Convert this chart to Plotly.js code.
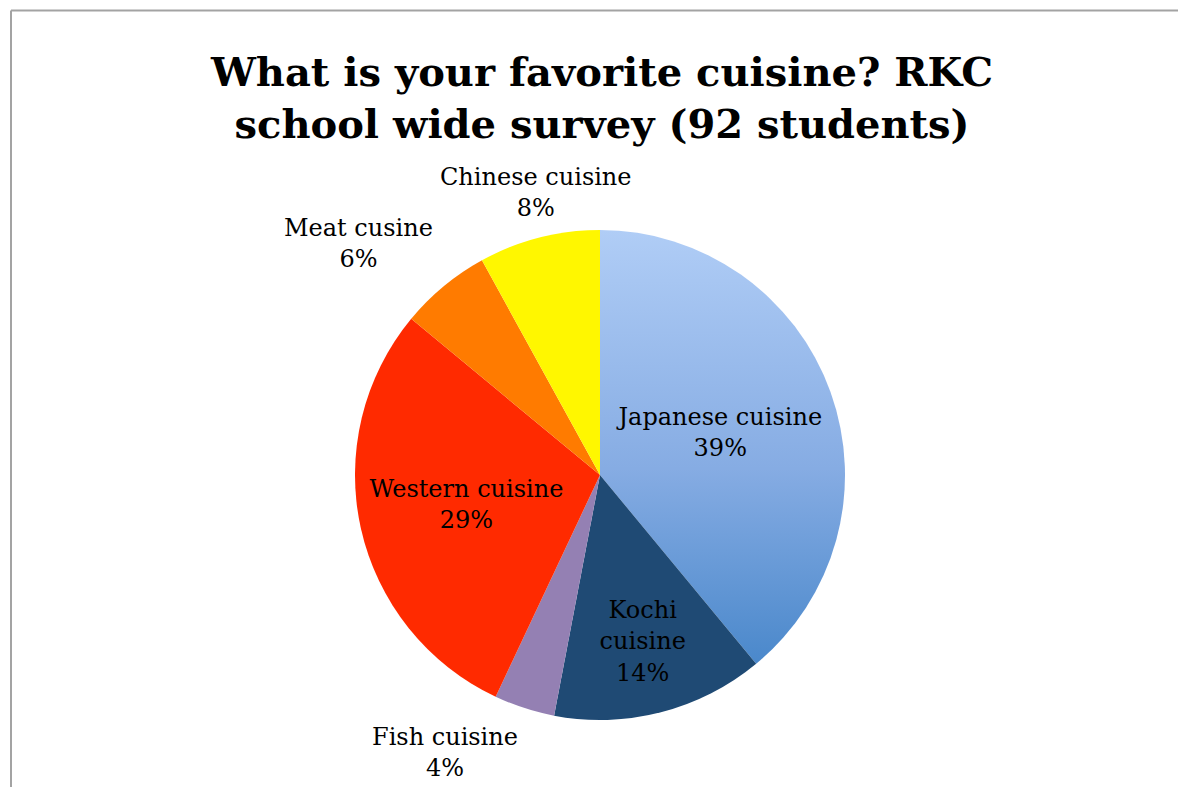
<!DOCTYPE html>
<html>
<head>
<meta charset="utf-8">
<script src="https://cdn.plot.ly/plotly-3.0.1.min.js"></script>
<style>
  html, body { margin: 0; padding: 0; background: #ffffff; }
  #chart { width: 1178px; height: 787px; }
</style>
</head>
<body>
<div id="chart"></div>
<script>
// Data
const categories = ['Japanese cuisine', 'Kochi cuisine', 'Fish cuisine', 'Western cuisine', 'Meat cusine', 'Chinese cuisine'];
const displayLabels = ['Japanese cuisine', 'Kochi<br>cuisine', 'Fish cuisine', 'Western cuisine', 'Meat cusine', 'Chinese cuisine'];
const percents = [39, 14, 4, 29, 6, 8];
const sliceColors = ['#7fa9e2', '#1f4a74', '#9480b3', '#ff2a00', '#ff7b00', '#fff700'];
const labelInside = [true, true, false, true, false, false];

const W = 1178, H = 787;
const cx = 600, cy = 475, R = 245;
const FONT = 'DejaVu Serif';
const LABEL_SIZE = 24;

const total = percents.reduce(function (a, b) { return a + b; }, 0);

const trace = {
  type: 'pie',
  labels: categories,
  values: percents,
  text: displayLabels,
  texttemplate: '%{text}<br>%{percent:.0%}',
  textposition: labelInside.map(function (v) { return v ? 'inside' : 'none'; }),
  insidetextorientation: 'horizontal',
  sort: false,
  direction: 'clockwise',
  rotation: 0,
  marker: { colors: sliceColors, line: { width: 0 } },
  textfont: { family: FONT, size: LABEL_SIZE, color: '#000000' },
  insidetextfont: { family: FONT, size: LABEL_SIZE, color: '#000000' },
  automargin: false,
  showlegend: false,
  hoverinfo: 'label+percent',
  domain: {
    x: [(cx - R) / W, (cx + R) / W],
    y: [(H - cy - R) / H, (H - cy + R) / H]
  }
};

// Outside labels: placed just beyond the rim at each slice's mid-angle (derived from the data)
const annotations = [];
let cum = 0;
percents.forEach(function (v, i) {
  const mid = (cum + v / 2) / total * 2 * Math.PI;
  cum += v;
  if (labelInside[i]) return;
  const s = Math.sin(mid), c = Math.cos(mid);
  const rr = R + 14;
  const px = cx + rr * s, py = cy - rr * c;
  annotations.push({
    xref: 'paper', yref: 'paper',
    x: px / W, y: 1 - py / H,
    text: displayLabels[i] + '<br>' + Math.round(v / total * 100) + '%',
    showarrow: false,
    xanchor: Math.abs(s) < 0.3 ? 'center' : (s < 0 ? 'right' : 'left'),
    yanchor: c > 0 ? 'bottom' : 'top',
    align: 'center',
    font: { family: FONT, size: LABEL_SIZE, color: '#000000' }
  });
});

const layout = {
  width: W,
  height: H,
  margin: { l: 0, r: 0, t: 0, b: 0 },
  paper_bgcolor: '#ffffff',
  plot_bgcolor: '#ffffff',
  showlegend: false,
  title: {
    text: 'What is your favorite cuisine? RKC<br>school wide survey (92 students)',
    font: { family: FONT, size: 40, color: '#000000', weight: 'bold' },
    x: 602 / W,
    xanchor: 'center',
    xref: 'container',
    y: 1 - 86 / H,
    yanchor: 'middle',
    yref: 'container'
  },
  annotations: annotations,
  shapes: [
    { type: 'line', xref: 'paper', yref: 'paper', x0: 11 / W, x1: 1, y0: 1 - 10.5 / H, y1: 1 - 10.5 / H, line: { color: '#a3a3a3', width: 2 } },
    { type: 'line', xref: 'paper', yref: 'paper', x0: 11 / W, x1: 11 / W, y0: 0, y1: 1 - 10.5 / H, line: { color: '#a3a3a3', width: 2 } }
  ]
};

Plotly.newPlot('chart', [trace], layout, { displayModeBar: false, staticPlot: true }).then(function (gd) {
  // Vertical gradient on the Japanese slice, as in the original
  const svg = gd.querySelector('svg.main-svg');
  const ns = 'http://www.w3.org/2000/svg';
  let defs = svg.querySelector('defs');
  if (!defs) { defs = document.createElementNS(ns, 'defs'); svg.insertBefore(defs, svg.firstChild); }
  const grad = document.createElementNS(ns, 'linearGradient');
  grad.setAttribute('id', 'jpGrad');
  grad.setAttribute('x1', '0'); grad.setAttribute('y1', '0');
  grad.setAttribute('x2', '0'); grad.setAttribute('y2', '1');
  [['0%', '#b0cdf6'], ['55%', '#86ace3'], ['100%', '#4a88cb']].forEach(function (s) {
    const st = document.createElementNS(ns, 'stop');
    st.setAttribute('offset', s[0]);
    st.setAttribute('stop-color', s[1]);
    grad.appendChild(st);
  });
  defs.appendChild(grad);
  const slices = gd.querySelectorAll('.slice path.surface');
  if (slices.length) slices[0].style.fill = 'url(#jpGrad)';
});
</script>
</body>
</html>
